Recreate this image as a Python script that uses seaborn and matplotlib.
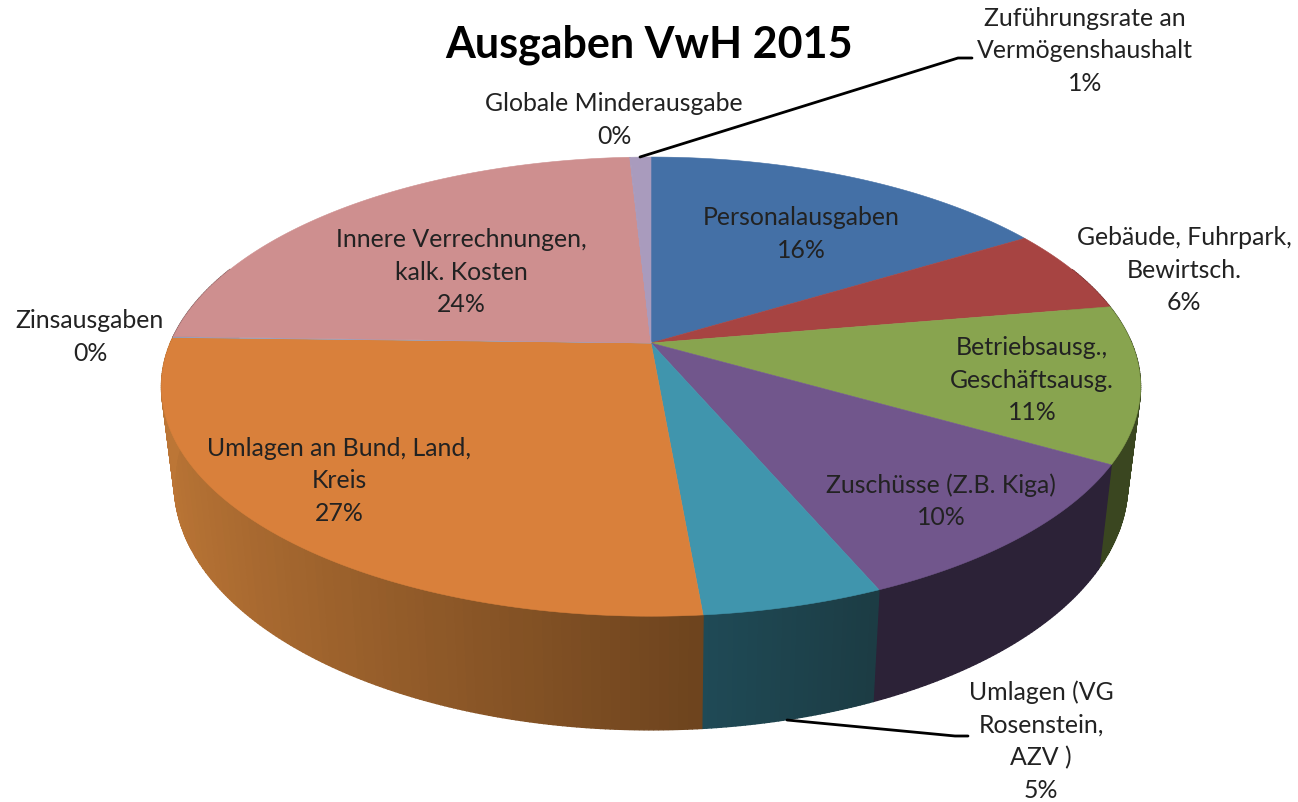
import numpy as np
import matplotlib
matplotlib.use('Agg')
import matplotlib.pyplot as plt
import seaborn as sns
from matplotlib.path import Path
from matplotlib.transforms import Transform

# Werte aus dem Bild (Prozent)
names = ['Personalausgaben', 'Gebäude, Fuhrpark,\nBewirtsch.', 'Betriebsausg.,\nGeschäftsausg.',
         'Zuschüsse (Z.B. Kiga)', 'Umlagen (VG\nRosenstein,\nAZV )', 'Umlagen an Bund, Land,\nKreis',
         'Zinsausgaben', 'Innere Verrechnungen,\nkalk. Kosten', 'Globale Minderausgabe',
         'Zuführungsrate an\nVermögenshaushalt']
values = [16.3, 6.0, 11.0, 10.3, 5.0, 26.8, 0.06, 23.7, 0.02, 0.82]

top_colors = ['#4470A6', '#A74442', '#88A44F', '#71568C', '#4095AD',
              '#D9803B', '#8BA7D0', '#CE8F8F', '#A99BBD', '#A99BBD']
wall_from = ['#2A4466', '#662A28', '#3A4620', '#2C2237', '#1C3C44',
             '#6E441E', '#6E441E', '#7A5555', '#665D72', '#665D72']
wall_to = ['#2A4466', '#662A28', '#3A4620', '#2C2237', '#1F4A56',
           '#BC7636', '#BC7636', '#7A5555', '#665D72', '#665D72']

# Position der Beschriftungen in Pixeln
label_pos = [(801, 234), (1184, 270), (1032, 380), (941, 501), (1041, 741), (339, 481),
             (90, 337), (461, 272), (614, 120), (1085, 51)]

sns.set_theme(style='white')
plt.rcParams['font.family'] = ['Lato', 'DejaVu Sans']


class Perspective(Transform):
    # Einheitskreis -> Bildpixel, hinten kleiner als vorne
    input_dims = output_dims = 2
    is_separable = False

    def __init__(self, a, b, k, x0, y0):
        super().__init__()
        self.a, self.b, self.k, self.x0, self.y0 = a, b, k, x0, y0

    def transform_non_affine(self, values):
        values = np.asarray(values, dtype=float)
        w = 1 + self.k * values[:, 1]
        return np.column_stack([self.x0 + self.a * values[:, 0] / w, self.y0 - self.b * values[:, 1] / w])

    def transform_path_non_affine(self, path):
        pts = [c.point_at_t(np.linspace(0, 1, 40)) for c, _ in path.iter_bezier()]
        return Path(self.transform_non_affine(np.vstack(pts)))


top = Perspective(480.6, 221.3, 0.19, 651, 343)
bottom = Perspective(468.0, 236.8, 0.19, 651, 437.5)

fig = plt.figure(figsize=(12.98, 8.02), dpi=100)
ax = fig.add_axes([0, 0, 1, 1])

wedges, _ = ax.pie(values, colors=top_colors, startangle=90, counterclock=False, radius=1,
                   wedgeprops={'linewidth': 0.4, 'zorder': 3})
for wedge, col in zip(wedges, top_colors):
    wedge.set_transform(top + ax.transData)
    wedge.set_edgecolor(col)

ax.set_aspect('auto')
ax.set_xlim(0, 1298)
ax.set_ylim(802, 0)
ax.axis('off')

# Seitenwand, Streifen für Streifen (Verlauf läuft mit x)
edges = np.cumsum([0] + values) / sum(values) * 2 * np.pi
for i in range(len(values)):
    n = max(int((edges[i + 1] - edges[i]) * 120), 2)
    angles = np.linspace(edges[i], edges[i + 1], n + 1)
    shades = sns.blend_palette([wall_from[i], wall_to[i]], 64)
    x_from, x_to = np.sin(edges[i]), np.sin(edges[i + 1])
    for t0, t1 in zip(angles[:-1], angles[1:]):
        if np.cos(t0) > 0.35 and np.cos(t1) > 0.35:
            continue
        frac = abs((np.sin(t0) - x_from) / (x_to - x_from))
        col = shades[min(int(frac * 64), 63)]
        circle = np.array([[np.sin(t0), np.cos(t0)], [np.sin(t1), np.cos(t1)]])
        upper = top.transform_non_affine(circle)
        lower = bottom.transform_non_affine(circle)
        quad = np.vstack([upper, lower[::-1]])
        ax.fill(quad[:, 0], quad[:, 1], color=col, linewidth=1.0, zorder=2)

# Texte
for name, val, (x, y) in zip(names, values, label_pos):
    ax.text(x, y, f'{name}\n{round(val):.0f}%', ha='center', va='center', fontsize=17.9,
            color='#222222', linespacing=1.5, zorder=5)

ax.text(649, 45, 'Ausgaben VwH 2015', ha='center', va='center', fontsize=31, fontweight='bold', color='black')

# Führungslinien
ax.plot([640, 958, 972], [157, 58, 58], color='black', lw=2, zorder=4)
ax.plot([787, 955, 968], [720, 736, 736], color='black', lw=2, zorder=4)

fig.savefig('out.png', dpi=100, facecolor='white')
